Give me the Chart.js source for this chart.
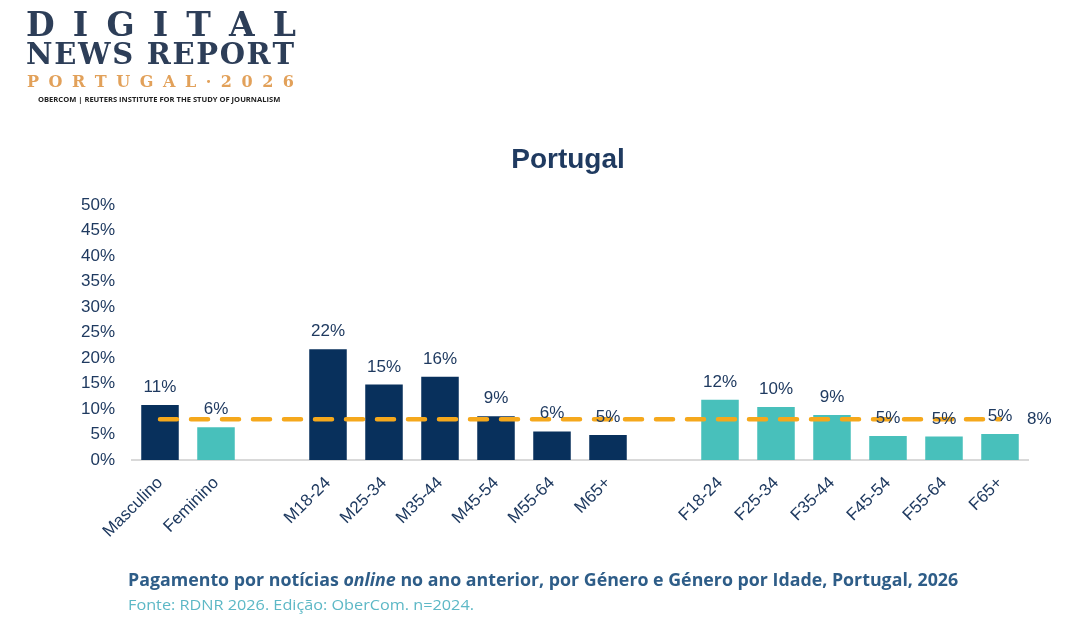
<!DOCTYPE html>
<html>
<head>
<meta charset="utf-8">
<script src="https://cdn.jsdelivr.net/npm/chart.js@4.4.1/dist/chart.umd.min.js"></script>
<style>
  body { margin: 0; background: #fff; }
  #page { position: relative; width: 1084px; height: 622px; overflow: hidden; font-family: "Liberation Sans", Arial, sans-serif; }
  #chart { position: absolute; left: 0; top: 0; }
  .spread { position: absolute; display: flex; justify-content: space-between; font-family: "DejaVu Serif", serif; font-weight: bold; line-height: 1; }
  #logo1 { left: 26px; top: 8px; width: 270px; font-size: 33px; color: #2d3e58; }
  #logo2 { left: 26px; top: 40px; width: 268px; font-size: 29px; color: #2d3e58; }
  #logo3 { left: 27px; top: 74px; width: 267px; font-size: 16px; color: #e2a15a; }
  #logo4 { position: absolute; left: 38px; top: 95px; font-family: "Open Sans", sans-serif; font-weight: bold; font-size: 7px; color: #222; white-space: nowrap; transform-origin: 0 0; }
  #title { position: absolute; left: 0; width: 1136px; top: 143px; text-align: center; font-weight: bold; font-size: 28px; color: #1f3a60; }
  #caption { position: absolute; left: 128px; top: 568px; font-family: "Open Sans", sans-serif; font-weight: bold; font-size: 17px; color: #2e5d88; white-space: nowrap; transform-origin: 0 0; }
  #source { position: absolute; left: 128px; top: 595px; font-family: "Open Sans", sans-serif; font-size: 14.5px; color: #5db8c6; white-space: nowrap; transform-origin: 0 0; }
</style>
</head>
<body>
<div id="page">
  <canvas id="chart" width="1084" height="622"></canvas>
  <div id="logo1" class="spread"></div>
  <div id="logo2" class="spread"></div>
  <div id="logo3" class="spread"></div>
  <div id="logo4">OBERCOM | REUTERS INSTITUTE FOR THE STUDY OF JOURNALISM</div>
  <div id="title">Portugal</div>
  <div id="caption">Pagamento por notícias <i>online</i> no ano anterior, por Género e Género por Idade, Portugal, 2026</div>
  <div id="source">Fonte: RDNR 2026. Edição: OberCom. n=2024.</div>
</div>
<script>
// categorias (as vazias separam os grupos)
const categories = ['Masculino', 'Feminino', '', 'M18-24', 'M25-34', 'M35-44', 'M45-54', 'M55-64', 'M65+', '', 'F18-24', 'F25-34', 'F35-44', 'F45-54', 'F55-64', 'F65+'];
const values = [10.8, 6.4, null, 21.7, 14.8, 16.3, 8.6, 5.6, 4.9, null, 11.8, 10.4, 8.8, 4.7, 4.6, 5.1];
const average = 8;
const yTicks = [0, 5, 10, 15, 20, 25, 30, 35, 40, 45, 50];

const NAVY = '#08305c';
const TEAL = '#48c0bb';
const TEXT = '#1f3a60';

// logotipo: letras espalhadas
function spread(id, text) {
    const el = document.getElementById(id);
    for (const ch of text) {
        const s = document.createElement('span');
        s.textContent = ch === ' ' ? '\u00a0' : ch;
        el.appendChild(s);
    }
}
spread('logo1', 'DIGITAL');
spread('logo2', 'NEWS REPORT');
spread('logo3', 'PORTUGAL·2026');

// ajustar largura dos textos
function fitWidth(id, w) {
    const el = document.getElementById(id);
    el.style.transform = 'scaleX(' + (w / el.offsetWidth) + ')';
}
fitWidth('caption', 830);
fitWidth('source', 346);
fitWidth('logo4', 242);

const valueLabels = {
    id: 'valueLabels',
    afterDatasetsDraw(chart) {
        const ctx = chart.ctx;
        ctx.save();
        ctx.font = '17px "Liberation Sans", Arial';
        ctx.fillStyle = TEXT;
        ctx.textAlign = 'center';
        ctx.textBaseline = 'alphabetic';
        chart.getDatasetMeta(1).data.forEach((bar, i) => {
            const v = values[i];
            if (v == null) return;
            ctx.fillText(Math.round(v) + '%', bar.x, bar.y - 13);
        });
        const pts = chart.getDatasetMeta(0).data;
        const last = pts[pts.length - 1];
        ctx.textAlign = 'left';
        ctx.textBaseline = 'middle';
        ctx.fillText(average + '%', last.x + 27, last.y);
        ctx.restore();
    }
};

new Chart(document.getElementById('chart'), {
    data: {
        labels: categories,
        datasets: [
            {
                type: 'line',
                data: categories.map(() => average),
                borderColor: '#f5a81c',
                borderWidth: 4.5,
                borderDash: [17, 14],
                borderCapStyle: 'round',
                pointRadius: 0,
                order: 0,
            },
            {
                type: 'bar',
                data: values,
                backgroundColor: categories.map(c => (c.startsWith('F') ? TEAL : NAVY)),
                categoryPercentage: 1,
                barPercentage: 0.67,
                order: 1,
            },
        ],
    },
    plugins: [valueLabels],
    options: {
        responsive: false,
        animation: false,
        devicePixelRatio: 1,
        layout: { padding: { left: 72, right: 56, top: 205, bottom: 62 } },
        plugins: { legend: { display: false }, tooltip: { enabled: false } },
        scales: {
            x: {
                grid: { display: false, drawTicks: false },
                border: { color: '#d9d9d9', width: 2 },
                ticks: {
                    minRotation: 45, maxRotation: 45, autoSkip: false, padding: 13,
                    color: TEXT, font: { family: '"Liberation Sans", Arial', size: 17 },
                },
                afterFit: axis => { axis.height = 100; },
            },
            y: {
                min: 0, max: 50,
                grid: { display: false, drawTicks: false },
                border: { display: false },
                afterBuildTicks: axis => { axis.ticks = yTicks.map(v => ({ value: v })); },
                ticks: {
                    padding: 17, color: TEXT,
                    font: { family: '"Liberation Sans", Arial', size: 17 },
                    callback: v => v + '%',
                },
                afterFit: axis => { axis.width = 60; },
            },
        },
    },
});
</script>
</body>
</html>
